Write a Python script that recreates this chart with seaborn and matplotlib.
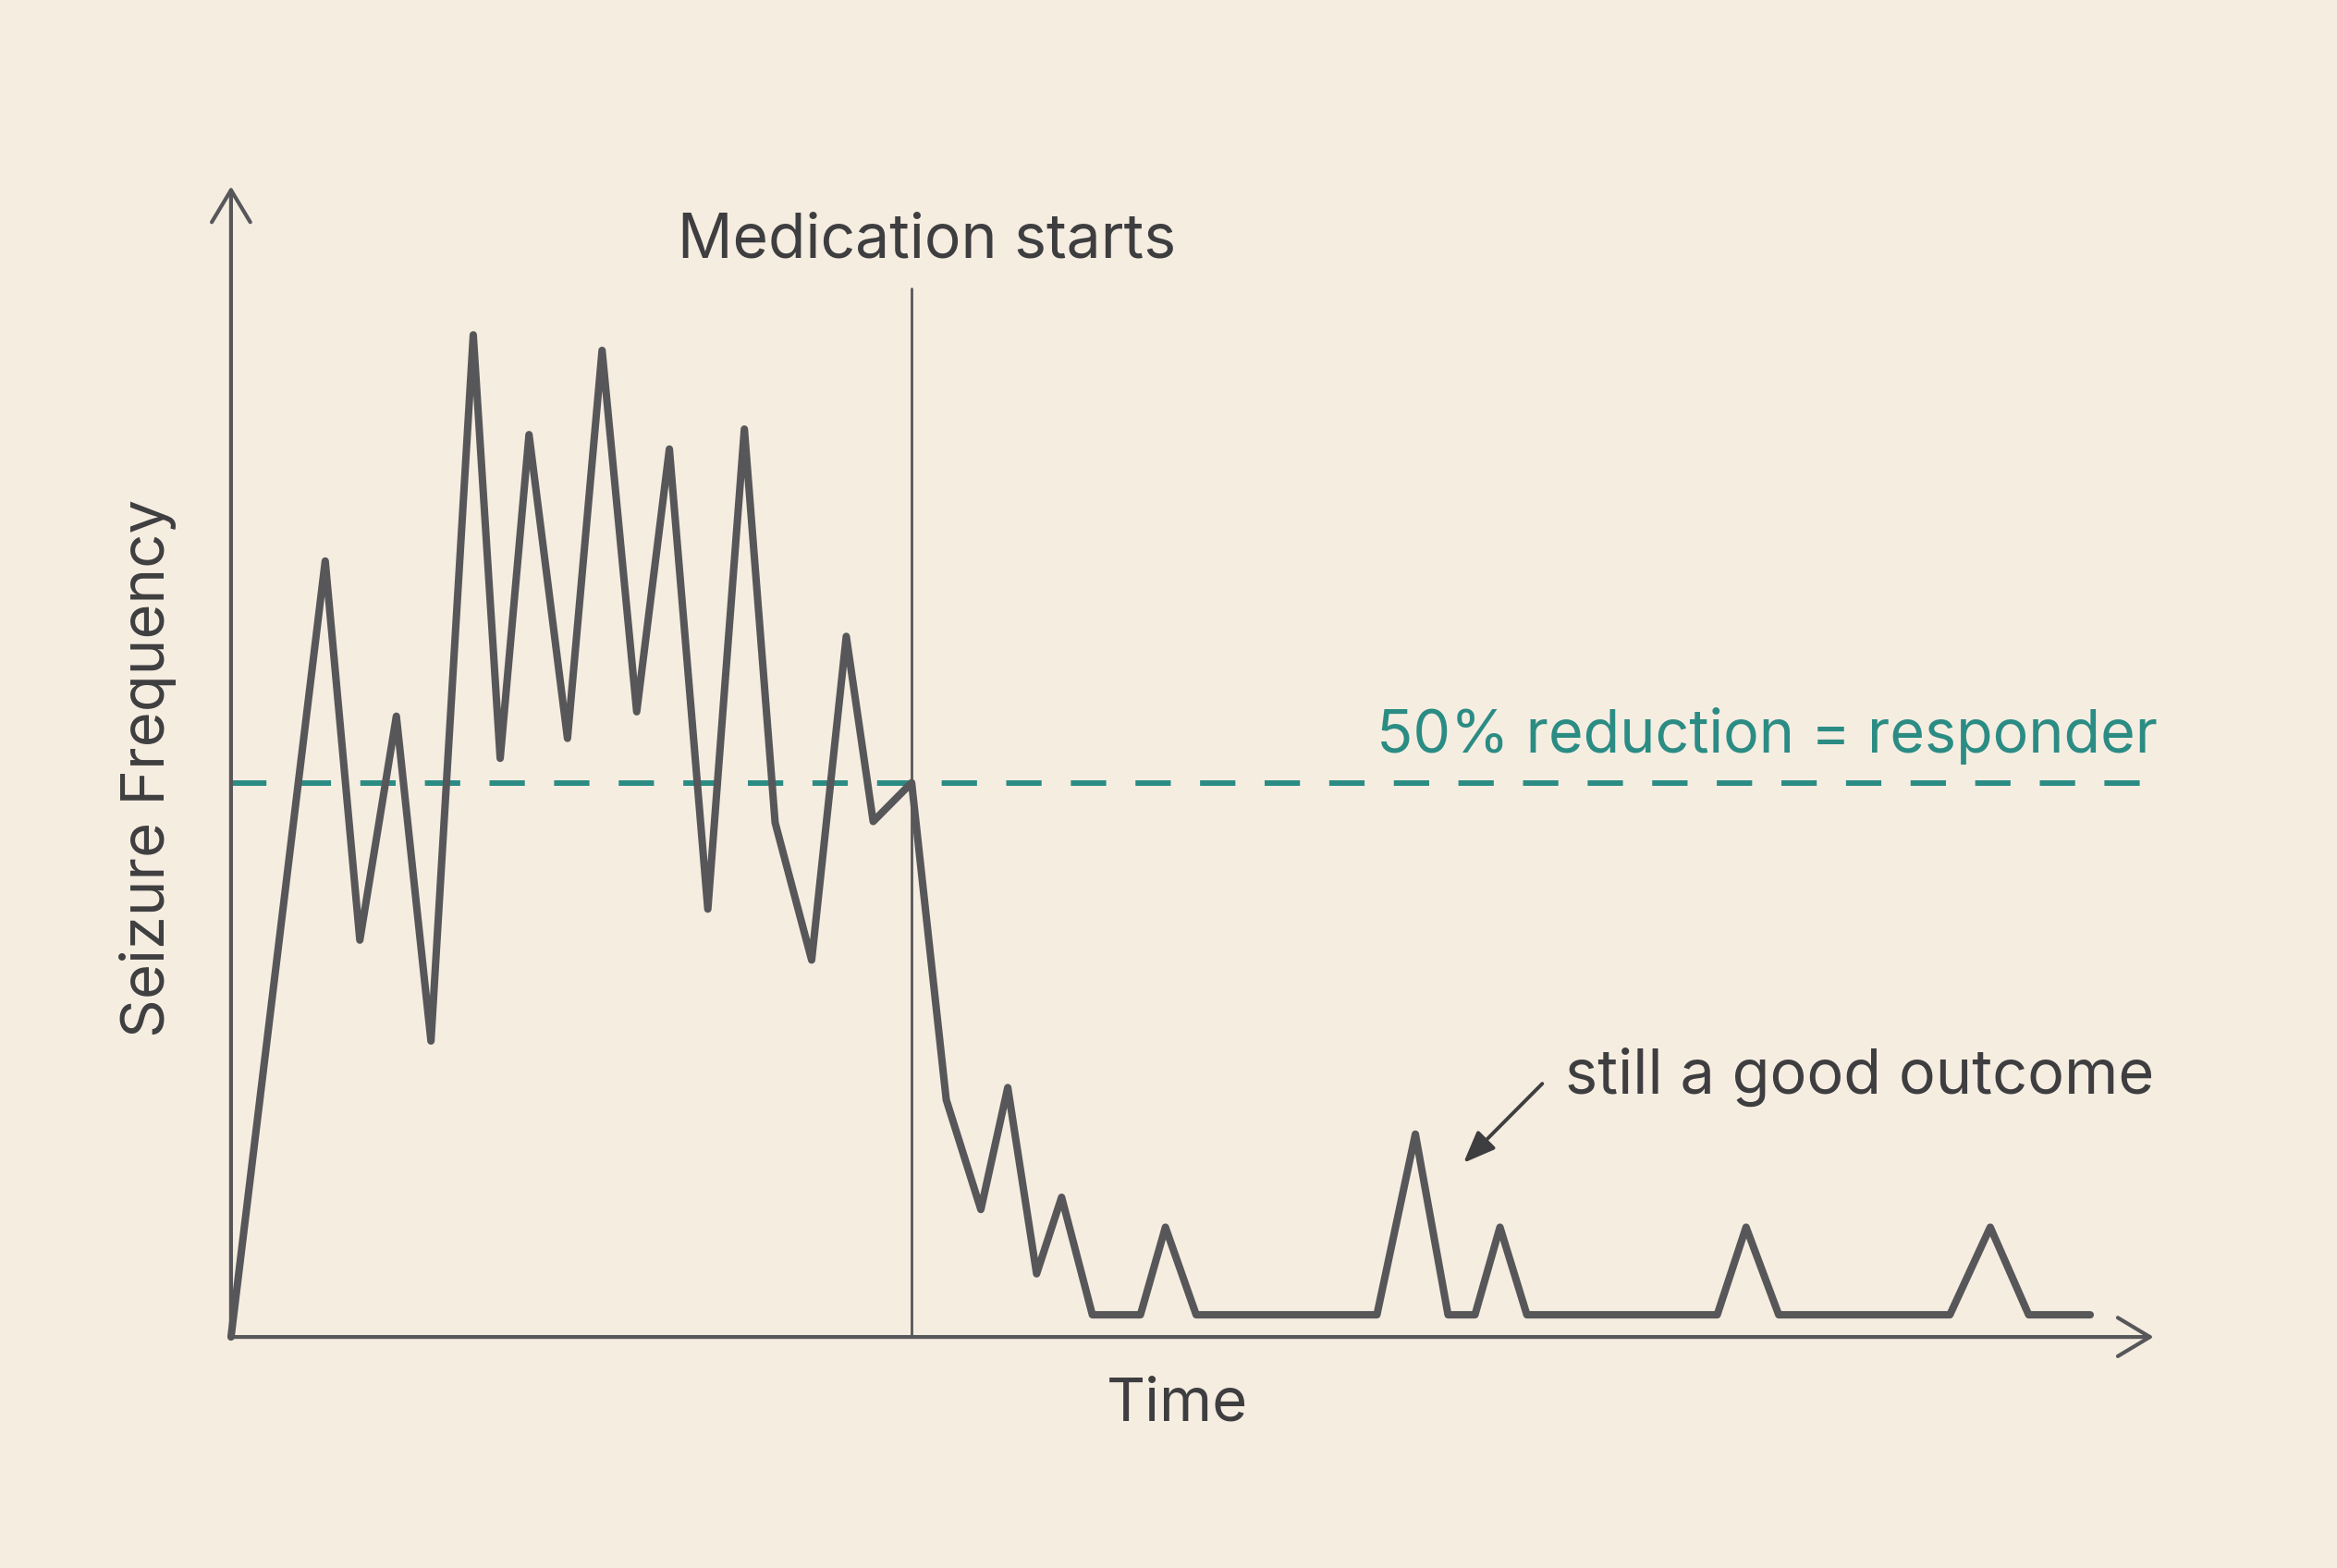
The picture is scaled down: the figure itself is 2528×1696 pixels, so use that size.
import numpy as np
import pandas as pd
import matplotlib
matplotlib.use("Agg")
import matplotlib.pyplot as plt
import seaborn as sns

# time (arbitrary units, axis runs 0-100) and seizure frequency (threshold = 50)
time = [0, 4.9, 6.7, 8.6, 10.4, 12.6, 14.0, 15.5, 17.5, 19.3, 21.1, 22.8, 24.8,
        26.7, 28.3, 30.2, 32.0, 33.4, 35.4, 37.2, 39.0, 40.4, 41.9, 43.2, 44.8,
        47.3, 48.6, 50.2, 59.6, 61.6, 63.3, 64.7, 66.0, 67.4, 77.3, 78.8, 80.5,
        89.4, 91.5, 93.5, 96.7]
frequency = [0, 70.0, 35.8, 56.0, 26.7, 90.4, 52.2, 81.4, 54.0, 89.0, 56.4, 80.1,
             38.6, 81.9, 46.4, 34.0, 63.2, 46.5, 50.0, 21.4, 11.5, 22.5, 5.7, 12.6,
             2, 2, 9.9, 2, 2, 18.3, 2, 2, 9.9, 2, 2, 9.9, 2, 2, 9.9, 2, 2]
medication_start = 35.4
responder_threshold = 50

bg = "#f6ede1"
ink = "#57575a"
text_col = "#3e3e40"
teal = "#2b8c84"

df = pd.DataFrame({"Time": time, "Frequency": frequency})

sns.set_theme(style="white")
plt.rcParams["font.family"] = ["Inter", "DejaVu Sans"]

fig = plt.figure(figsize=(25.28, 16.96), dpi=100, facecolor=bg)
ax = fig.add_axes([0.09885, 0.14734, 0.82270, 0.73384])
ax.set_facecolor(bg)
ax.set_xlim(0, 100)
ax.set_ylim(0, 103.8)

# responder threshold
ax.plot([0, 100.2], [responder_threshold] * 2, color=teal, lw=4.3,
        dashes=(6.4, 5.3), clip_on=False, zorder=2)

# medication start marker
ax.plot([medication_start] * 2, [0, 94.6], color=ink, lw=2.0, clip_on=False, zorder=2)

sns.lineplot(data=df, x="Time", y="Frequency", ax=ax, color=ink, lw=5.8,
             solid_joinstyle="round", solid_capstyle="round", clip_on=False, zorder=3)

# axes as arrows
for s in ax.spines.values():
    s.set_visible(False)
ax.set_xticks([])
ax.set_yticks([])
ax.set_xlabel("")
ax.set_ylabel("")
arrow = dict(arrowstyle="->,head_length=1.25,head_width=0.75", color=ink, lw=3.0,
             shrinkA=0, shrinkB=0, mutation_scale=20)
ax.annotate("", xy=(100, 0), xytext=(0, 0), arrowprops=arrow, annotation_clip=False)
ax.annotate("", xy=(0, 103.8), xytext=(0, 0), arrowprops=arrow, annotation_clip=False)

ax.text(36.2, 97.4, "Medication starts", ha="center", va="baseline",
        fontsize=47.5, color=text_col, clip_on=False)
ax.text(100.2, 52.7, "50% reduction = responder", ha="right", va="baseline",
        fontsize=46.5, color=teal, clip_on=False)
ax.text(69.4, 22.0, "still a good outcome", ha="left", va="baseline",
        fontsize=48, color=text_col, clip_on=False)
ax.text(49.2, -7.5, "Time", ha="center", va="baseline",
        fontsize=47, color=text_col, clip_on=False)
ax.text(-4.3, 51.3, "Seizure Frequency", ha="center", va="center", rotation=90,
        fontsize=47, color=text_col, clip_on=False)

ax.annotate("", xy=(64.1, 15.7), xytext=(68.2, 22.85),
            arrowprops=dict(arrowstyle="-|>,head_length=1.05,head_width=0.42",
                            color=text_col, lw=2.8, shrinkA=0, shrinkB=0,
                            mutation_scale=20),
            annotation_clip=False)

fig.savefig("out.png", dpi=100, facecolor=bg)
